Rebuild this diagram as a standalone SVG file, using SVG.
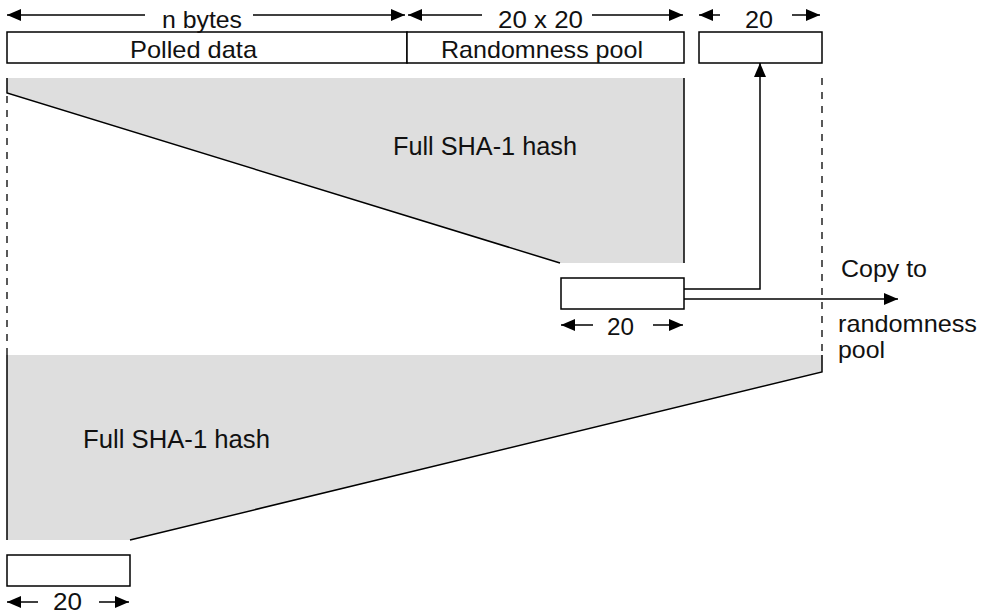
<svg xmlns="http://www.w3.org/2000/svg" width="987" height="616" viewBox="0 0 987 616">
<defs>
<marker id="ah" markerUnits="userSpaceOnUse" markerWidth="14" markerHeight="12" refX="14" refY="6" orient="auto-start-reverse" viewBox="0 0 14 12">
<path d="M0,0 L14,6 L0,12 z" fill="#000"/>
</marker>
<style>
.t{font-family:"Liberation Sans",Arial,sans-serif;font-size:24px;fill:#111}
.h{font-size:25px}
.b{fill:#fff;stroke:#000;stroke-width:1.5}
.l{fill:none;stroke:#000;stroke-width:1.5}
.d{fill:none;stroke:#000;stroke-width:1.3;stroke-dasharray:7,7}
.g{fill:#dedede;stroke:none}
.a{fill:none;stroke:#000;stroke-width:1.5;marker-end:url(#ah)}
</style>
</defs>
<rect width="987" height="616" fill="#fff"/>

<g id="hash-top">
<polygon class="g" points="7,78 684,78 684,263 560,263 7,93"/>
<path class="l" d="M7,78 V93 L560,263"/>
<path class="l" d="M684,78 V263"/>
<text class="t h" x="393" y="155" textLength="184" lengthAdjust="spacingAndGlyphs">Full SHA-1 hash</text>
</g>

<g id="hash-bottom">
<polygon class="g" points="7,355 822,355 822,372 130,540 7,540"/>
<path class="l" d="M822,355 V372 L130,540"/>
<path class="l" d="M7,355 V540"/>
<text class="t h" x="83" y="448" textLength="187" lengthAdjust="spacingAndGlyphs">Full SHA-1 hash</text>
</g>

<g id="guides">
<path class="d" d="M7,96 V355"/>
<path class="d" d="M822,78 V355"/>
</g>

<g id="polled-data">
<rect class="b" x="7" y="32" width="400" height="31"/>
<text class="t" x="130" y="58" textLength="127" lengthAdjust="spacingAndGlyphs">Polled data</text>
</g>
<g id="randomness-pool">
<rect class="b" x="407" y="32" width="277" height="31"/>
<text class="t" x="441" y="58" textLength="202" lengthAdjust="spacingAndGlyphs">Randomness pool</text>
</g>
<g id="pool-slot">
<rect class="b" x="699" y="32" width="123" height="31"/>
</g>
<g id="hash-out-mid">
<rect class="b" x="561" y="278" width="123" height="31"/>
</g>
<g id="hash-out-bottom">
<rect class="b" x="7" y="555" width="123" height="31"/>
</g>

<g id="dimensions">
<path class="a" d="M145,15 H7"/>
<path class="a" d="M253,15 H405"/>
<text class="t" x="162" y="28" textLength="80" lengthAdjust="spacingAndGlyphs">n bytes</text>
<path class="a" d="M482,15 H408"/>
<path class="a" d="M592,15 H683"/>
<text class="t" x="498" y="28" textLength="85" lengthAdjust="spacingAndGlyphs">20 x 20</text>
<path class="a" d="M720,15 H699"/>
<path class="a" d="M792,15 H820"/>
<text class="t" x="745" y="28" textLength="28" lengthAdjust="spacingAndGlyphs">20</text>
<path class="a" d="M593,325 H561"/>
<path class="a" d="M653,325 H683"/>
<text class="t" x="607" y="335" textLength="27" lengthAdjust="spacingAndGlyphs">20</text>
<path class="a" d="M38,602 H7"/>
<path class="a" d="M99,602 H129"/>
<text class="t" x="53" y="610" textLength="29" lengthAdjust="spacingAndGlyphs">20</text>
</g>

<g id="connectors">
<path class="a" d="M684,289 H760 V63"/>
<path class="a" d="M684,299 H898"/>
</g>
<g id="copy-label">
<text class="t" x="841" y="277" textLength="86" lengthAdjust="spacingAndGlyphs">Copy to</text>
<text class="t" x="838" y="332" textLength="139" lengthAdjust="spacingAndGlyphs">randomness</text>
<text class="t" x="838" y="358" textLength="47" lengthAdjust="spacingAndGlyphs">pool</text>
</g>
</svg>
